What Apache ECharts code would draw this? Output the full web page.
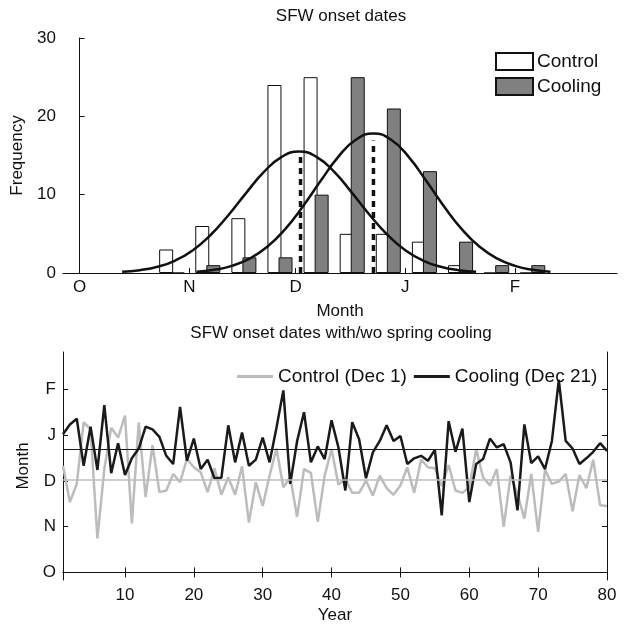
<!DOCTYPE html>
<html>
<head>
<meta charset="utf-8">
<script src="https://cdn.jsdelivr.net/npm/echarts@6/dist/echarts.min.js"></script>
<style>
  html, body { margin: 0; padding: 0; background: #fff; }
  #chart { width: 628px; height: 625px; }
</style>
</head>
<body>
<div id="chart"></div>
<script>
// month ticks, in days from Oct 1
var monthTicks = [0, 31, 61, 92, 123];
var monthLabels = ['O', 'N', 'D', 'J', 'F'];

// histogram (10-day bins)
var binCenters = [26, 36.2, 46.4, 56.6, 66.8, 77, 87.2, 97.4, 107.6, 117.8, 128];
var controlCounts = [3, 6, 7, 24, 25, 5, 5, 4, 1, 0, 0];
var coolingCounts = [0, 1, 2, 2, 10, 25, 21, 13, 4, 1, 1];

// fitted curves
var controlCurveX = [12, 17, 22, 27, 32, 37, 42, 47, 52, 57, 62, 67, 72, 77, 82, 87, 92, 97, 102, 107, 112];
var controlCurveY = [0.15, 0.36, 0.79, 1.59, 2.91, 4.85, 7.37, 10.2, 12.87, 14.8, 15.5, 14.8, 12.87, 10.2, 7.37, 4.85, 2.91, 1.59, 0.79, 0.36, 0.15];
var coolingCurveX = [33, 38, 43, 48, 53, 58, 63, 68, 73, 78, 83, 88, 93, 98, 103, 108, 113, 118, 123, 128, 133];
var coolingCurveY = [0.17, 0.41, 0.91, 1.83, 3.34, 5.57, 8.46, 11.7, 14.8, 17.0, 17.8, 17.0, 14.8, 11.7, 8.46, 5.57, 3.34, 1.83, 0.91, 0.41, 0.17];

var controlMean = 62.4;
var coolingMean = 83;
var controlMeanTop = 15.1;
var coolingMeanTop = 16.9;

// yearly onset dates (days from Oct 1)
var years = [];
for (var i = 1; i <= 80; i++) years.push(i);
var controlYearly = [71.7, 47.3, 59.5, 101, 96.2, 22.9, 69.5, 97.3, 90.7, 105.5,
  32.9, 100.7, 50.7, 85.5, 54, 55.1, 66.2, 60.7, 76.2, 70.7,
  67.3, 54, 70, 52.2, 64, 52.2, 71.3, 33.5, 60.7, 44.7,
  65.1, 83.3, 57.3, 64, 37.3, 69.5, 66.9, 34, 65.1, 82.9,
  59, 62.9, 53.5, 53.5, 61.7, 51.7, 65.1, 56.7, 52.2, 58.4,
  70.7, 53.5, 75.8, 70.7, 70, 58, 72.2, 55.1, 53.5, 57.3,
  82.9, 64, 58.4, 69.5, 30.7, 65.1, 52.9, 36.2, 66.2, 27.3,
  69.1, 59.5, 61.1, 66.2, 41.1, 65.5, 56.7, 75.8, 45.1, 44.7];
var coolingYearly = [92.9, 99.5, 103.3, 71.7, 98, 68.9, 112.4, 66.7, 86.9, 65.5,
  76.7, 83.3, 98, 96.2, 91.1, 78.4, 72.9, 111.3, 75.1, 90,
  69.5, 75.8, 63.3, 63.7, 98.9, 74, 94, 71.7, 75.8, 90.7,
  74, 97.3, 122.4, 59.5, 88.4, 107.7, 74, 84.7, 76.2, 102.3,
  84, 55.1, 101, 89.5, 63.3, 80.7, 88.4, 98.9, 88.4, 91.7,
  72.9, 76.7, 78.4, 75.1, 82.4, 38.4, 101.7, 81.1, 96.7, 47.3,
  72.9, 76.2, 90, 84, 86.2, 74, 41.7, 99.5, 73.5, 78,
  69.5, 88.4, 129.5, 88.4, 83.3, 72.9, 76.7, 81.1, 86.9, 81.7];
var yearTicks = [10, 20, 30, 40, 50, 60, 70, 80];

var FONT = 'Liberation Sans';
var INK = '#111';
var GRAY = '#bcbcbc';

function pairs(xs, ys) {
    return xs.map(function (x, i) { return [x, ys[i]]; });
}
function monthName(v) {
    var idx = monthTicks.indexOf(Math.round(v));
    return idx >= 0 ? monthLabels[idx] : '';
}

var chart = echarts.init(document.getElementById('chart'));

var axisText = { color: INK, fontFamily: FONT, fontSize: 17 };
var line = { lineStyle: { color: INK, width: 1 } };

var option = {
    animation: false,
    backgroundColor: '#fff',
    title: [
        { text: 'SFW onset dates', left: 336, top: 3, textAlign: 'center',
          textStyle: { fontFamily: FONT, fontSize: 17, fontWeight: 'normal', color: INK } },
        { text: 'SFW onset dates with/wo spring cooling', left: 336, top: 320, textAlign: 'center',
          textStyle: { fontFamily: FONT, fontSize: 17, fontWeight: 'normal', color: INK } }
    ],
    legend: [
        {
            data: ['Control', 'Cooling'],
            orient: 'vertical',
            left: 490, top: 47,
            icon: 'rect',
            itemWidth: 37, itemHeight: 17, itemGap: 6,
            textStyle: { fontFamily: FONT, fontSize: 19, color: INK, padding: [0, 0, 0, -1] }
        },
        {
            data: ['Control (Dec 1)', 'Cooling (Dec 21)'],
            left: 232, top: 362,
            icon: 'rect',
            itemWidth: 36, itemHeight: 3, itemGap: 7,
            textStyle: { fontFamily: FONT, fontSize: 19, color: INK, padding: [0, 0, 0, 0] }
        }
    ],
    grid: [
        { left: 63, right: 11, top: 38, bottom: 352 },
        { left: 63, right: 21, top: 352, bottom: 43 }
    ],
    xAxis: [
        {
            gridIndex: 0, type: 'value', min: -4.7, max: 151.8,
            name: 'Month', nameLocation: 'middle', nameGap: 30,
            nameTextStyle: axisText,
            axisLine: line,
            axisTick: { inside: true, length: 5, lineStyle: { color: INK }, customValues: monthTicks },
            axisLabel: Object.assign({ customValues: monthTicks, formatter: monthName, margin: 6 }, axisText),
            splitLine: { show: false }
        },
        {
            gridIndex: 1, type: 'value', min: 1, max: 80,
            name: 'Year', nameLocation: 'middle', nameGap: 27,
            nameTextStyle: axisText,
            axisLine: line,
            axisTick: { inside: true, length: 5, lineStyle: { color: INK }, customValues: yearTicks },
            axisLabel: Object.assign({ customValues: yearTicks, margin: 7 }, axisText),
            splitLine: { show: false }
        },
        {
            gridIndex: 1, type: 'value', min: 1, max: 80, position: 'top',
            axisLine: line,
            axisTick: { inside: true, length: 5, lineStyle: { color: INK }, customValues: yearTicks },
            axisLabel: { show: false },
            splitLine: { show: false }
        }
    ],
    yAxis: [
        {
            gridIndex: 0, type: 'value', min: 0, max: 30, interval: 10,
            name: 'Frequency', nameLocation: 'middle', nameGap: 32,
            nameTextStyle: axisText,
            axisLine: Object.assign({ show: true }, line),
            axisTick: { show: true, inside: true, length: 5, lineStyle: { color: INK } },
            axisLabel: Object.assign({ margin: 7 }, axisText),
            splitLine: { show: false }
        },
        {
            gridIndex: 1, type: 'value', min: -5.1, max: 148.2,
            name: 'Month', nameLocation: 'middle', nameGap: 30,
            nameTextStyle: axisText,
            axisLine: Object.assign({ show: true }, line),
            axisTick: { show: true, inside: true, length: 5, lineStyle: { color: INK }, customValues: monthTicks },
            axisLabel: Object.assign({ customValues: monthTicks, formatter: monthName, margin: 7 }, axisText),
            splitLine: { show: false }
        },
        {
            gridIndex: 1, type: 'value', min: -5.1, max: 148.2, position: 'right',
            axisLine: Object.assign({ show: true }, line),
            axisTick: { show: true, inside: true, length: 5, lineStyle: { color: INK }, customValues: monthTicks },
            axisLabel: { show: false },
            splitLine: { show: false }
        }
    ],
    series: [
        {
            name: 'Control', type: 'bar', xAxisIndex: 0, yAxisIndex: 0,
            data: pairs(binCenters, controlCounts),
            barWidth: 14, barGap: '-21%',
            itemStyle: { color: '#fff', borderColor: INK, borderWidth: 1 }
        },
        {
            name: 'Cooling', type: 'bar', xAxisIndex: 0, yAxisIndex: 0,
            data: pairs(binCenters, coolingCounts),
            barWidth: 14, barGap: '-21%',
            itemStyle: { color: '#808080', borderColor: INK, borderWidth: 1 }
        },
        {
            name: 'controlFit', type: 'line', xAxisIndex: 0, yAxisIndex: 0,
            data: pairs(controlCurveX, controlCurveY), smooth: true, symbol: 'none',
            lineStyle: { color: INK, width: 2.5 }, z: 4
        },
        {
            name: 'coolingFit', type: 'line', xAxisIndex: 0, yAxisIndex: 0,
            data: pairs(coolingCurveX, coolingCurveY), smooth: true, symbol: 'none',
            lineStyle: { color: INK, width: 2.5 }, z: 4
        },
        {
            name: 'controlMeanLine', type: 'line', xAxisIndex: 0, yAxisIndex: 0,
            data: [[controlMean, 0], [controlMean, controlMeanTop]], symbol: 'none',
            lineStyle: { color: INK, width: 3.5, type: [6, 5] }, z: 5
        },
        {
            name: 'coolingMeanLine', type: 'line', xAxisIndex: 0, yAxisIndex: 0,
            data: [[coolingMean, 0], [coolingMean, coolingMeanTop]], symbol: 'none',
            lineStyle: { color: INK, width: 3.5, type: [6, 5] }, z: 5
        },
        {
            name: 'Control (Dec 1)', type: 'line', xAxisIndex: 1, yAxisIndex: 1,
            data: pairs(years, controlYearly), symbol: 'none',
            itemStyle: { color: GRAY },
            lineStyle: { color: GRAY, width: 2.5 },
            markLine: {
                silent: true, symbol: 'none', label: { show: false },
                lineStyle: { color: GRAY, width: 1.5, type: 'solid' },
                data: [{ yAxis: controlMean }]
            }
        },
        {
            name: 'Cooling (Dec 21)', type: 'line', xAxisIndex: 1, yAxisIndex: 1,
            data: pairs(years, coolingYearly), symbol: 'none',
            itemStyle: { color: '#1a1a1a' },
            lineStyle: { color: '#1a1a1a', width: 2.5 },
            markLine: {
                silent: true, symbol: 'none', label: { show: false },
                lineStyle: { color: '#1a1a1a', width: 1.2, type: 'solid' },
                data: [{ yAxis: coolingMean }]
            }
        }
    ]
};

chart.setOption(option);
</script>
</body>
</html>
